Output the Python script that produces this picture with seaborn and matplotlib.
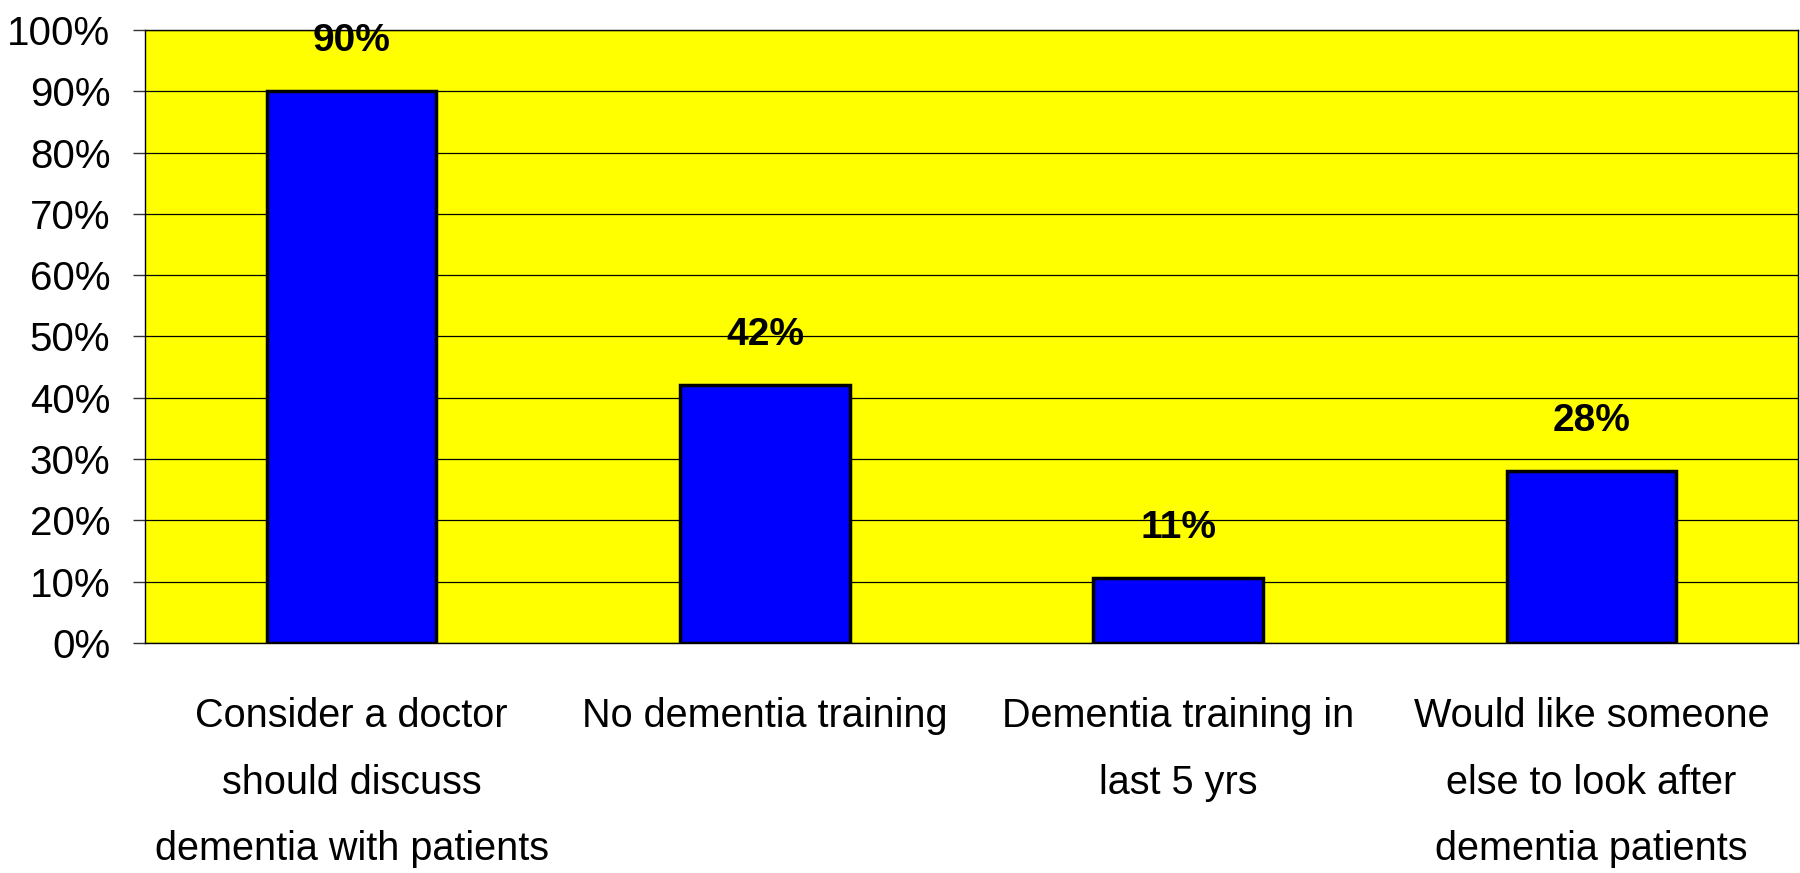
import matplotlib
matplotlib.use("Agg")
import matplotlib.pyplot as plt
import seaborn as sns
import pandas as pd
from matplotlib.ticker import FixedLocator, PercentFormatter

# chart data
categories = [
    "Consider a doctor\nshould discuss\ndementia with patients",
    "No dementia training",
    "Dementia training in\nlast 5 yrs",
    "Would like someone\nelse to look after\ndementia patients",
]
shares = [0.90, 0.42, 0.106, 0.28]
y_ticks = [0.0, 0.1, 0.2, 0.3, 0.4, 0.5, 0.6, 0.7, 0.8, 0.9, 1.0]

df = pd.DataFrame({"category": categories, "share": shares})

sns.set_style("white")
plt.rcParams["font.family"] = ["Liberation Sans", "DejaVu Sans"]
plt.rcParams["text.color"] = "black"
plt.rcParams["xtick.color"] = "black"
plt.rcParams["ytick.color"] = "black"

fig = plt.figure(figsize=(18, 8.73), dpi=100)
ax = fig.add_axes([0.0806, 0.2635, 0.9183, 0.7022])
ax.set_facecolor("#FFFF00")

sns.barplot(data=df, x="category", y="share", color="#0000FF", saturation=1,
            width=0.41, edgecolor="black", linewidth=2.5, ax=ax, zorder=3)

ax.set_ylim(0, 1)
ax.set_xlim(-0.5, len(categories) - 0.5)
ax.yaxis.set_major_locator(FixedLocator(y_ticks))
ax.yaxis.set_major_formatter(PercentFormatter(1.0, decimals=0))
ax.grid(axis="y", color="black", linewidth=0.9, zorder=0)
ax.set_axisbelow(True)
ax.set_xlabel("")
ax.set_ylabel("")

# x ticks: labels at centres, tick marks at category borders
ax.xaxis.set_minor_locator(FixedLocator([i - 0.5 for i in range(len(categories) + 1)]))
ax.tick_params(axis="x", which="major", length=0, pad=39, labelsize=28.5,
               labelcolor="black")
ax.tick_params(axis="x", which="minor", length=11, width=1, color="#555555", direction="out")
ax.tick_params(axis="y", which="major", length=9, width=1, color="#333333",
               direction="out", pad=16, labelsize=29, left=True, labelcolor="black")
for lab in ax.get_xticklabels():
    lab.set_linespacing(1.95)

for side in ["left", "bottom", "top", "right"]:
    ax.spines[side].set_visible(True)
    ax.spines[side].set_color("black")
    ax.spines[side].set_linewidth(1.0)

for i, v in enumerate(shares):
    ax.annotate(f"{v:.0%}", (i, v), xytext=(0, 36), textcoords="offset points",
                ha="center", va="center", fontsize=28, fontweight="bold",
                color="black", zorder=5)

fig.savefig("out.png", dpi=100)
